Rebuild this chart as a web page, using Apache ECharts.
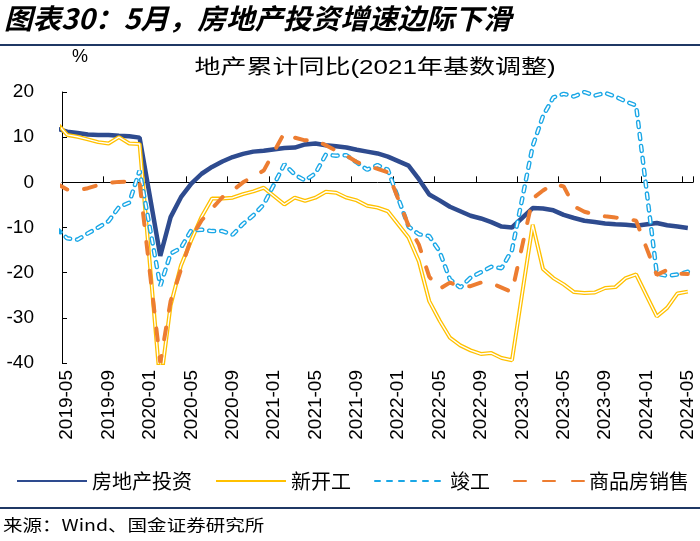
<!DOCTYPE html>
<html><head><meta charset="utf-8">
<script src="https://cdn.jsdelivr.net/npm/echarts@6/dist/echarts.min.js"></script>
<style>html,body{margin:0;padding:0;background:#fff}#c{width:700px;height:541px}</style>
</head><body><div id="c"></div>
<script>
// months: first entry (2019-04) only feeds the line's left edge
const months = [
  '2019-04','2019-05','2019-06','2019-07','2019-08','2019-09','2019-10','2019-11','2019-12',
  '2020-01','2020-02','2020-03','2020-04','2020-05','2020-06','2020-07','2020-08','2020-09','2020-10','2020-11','2020-12',
  '2021-01','2021-02','2021-03','2021-04','2021-05','2021-06','2021-07','2021-08','2021-09','2021-10','2021-11','2021-12',
  '2022-01','2022-02','2022-03','2022-04','2022-05','2022-06','2022-07','2022-08','2022-09','2022-10','2022-11','2022-12',
  '2023-01','2023-02','2023-03','2023-04','2023-05','2023-06','2023-07','2023-08','2023-09','2023-10','2023-11','2023-12',
  '2024-01','2024-02','2024-03','2024-04','2024-05'
];
const invest = [
  11.9, 11.2, 10.9, 10.6, 10.5, 10.5, 10.3, 10.2, 9.9,
  null, -16.3, -7.7, -3.3, -0.3, 1.9, 3.4, 4.6, 5.6, 6.3, 6.8, 7.0,
  null, 7.6, 7.7, 8.4, 8.6, 8.2, 8.0, 7.7, 7.2, 6.8, 6.4, 5.7,
  null, 3.7, 0.7, -2.7, -4.0, -5.4, -6.4, -7.4, -8.0, -8.8, -9.8, -10.0,
  null, -5.7, -5.8, -6.2, -7.2, -7.9, -8.5, -8.8, -9.1, -9.3, -9.4, -9.6,
  null, -9.0, -9.5, -9.8, -10.1
];
const newStart = [
  13.1, 10.5, 10.1, 9.5, 8.9, 8.6, 10.0, 8.6, 8.5,
  null, -44.9, -27.2, -18.4, -12.8, -7.6, -3.6, -3.6, -3.4, -2.6, -2.0, -1.2,
  null, -4.9, -3.4, -4.1, -3.4, -2.1, -2.3, -3.4, -4.0, -5.2, -5.6, -6.4,
  null, -12.2, -17.5, -26.3, -30.6, -34.4, -36.1, -37.2, -38.0, -37.8, -38.9, -39.4,
  null, -9.4, -19.2, -21.2, -22.6, -24.3, -24.5, -24.4, -23.4, -23.2, -21.2, -20.4,
  null, -29.7, -27.8, -24.6, -24.2
];
const completion = [
  -10.3, -12.4, -12.7, -11.3, -10.0, -8.6, -5.5, -4.5, 2.6,
  null, -22.9, -15.8, -14.5, -10.6, -10.5, -10.8, -10.8, -11.6, -9.2, -7.3, -4.9,
  null, 4.0, 1.7, 0.4, 2.0, 6.1, 5.9, 6.0, 4.4, 2.8, 3.8, 2.8,
  null, -9.8, -11.5, -11.9, -15.3, -21.5, -23.3, -21.1, -19.9, -18.7, -19.0, -15.0,
  null, 8.0, 14.7, 18.8, 19.6, 19.0, 20.0, 19.2, 19.8, 19.0, 17.9, 17.0,
  null, -20.2, -20.7, -20.4, -19.8
];
const sales = [
  -0.3, -1.6, -1.8, -1.3, -0.6, -0.1, 0.1, 0.2, -0.1,
  null, -39.9, -26.3, -19.3, -12.3, -8.4, -5.8, -3.3, -1.8, 0.0, 1.3, 2.6,
  null, 11.0, 9.9, 9.3, 9.4, 8.2, 7.0, 5.9, 4.5, 3.6, 3.0, 2.2,
  null, -9.6, -13.8, -20.9, -23.6, -22.2, -23.1, -23.0, -22.2, -22.3, -23.3, -24.3,
  null, -3.6, -1.8, -0.4, -0.9, -5.3, -6.5, -7.1, -7.5, -7.8, -8.0, -8.5,
  null, -20.5, -19.4, -20.2, -20.3
];
const seriesNames = ['房地产投资', '新开工', '竣工', '商品房销售'];
const titleText = '图表30：5月，房地产投资增速边际下滑';
const subTitle = '地产累计同比(2021年基数调整)';
const sourceText = '来源：Wind、国金证券研究所';
const yMin = -40, yMax = 20, yStep = 10;

const cats = months.slice(1);
const toXY = arr => arr.map((v, i) => [i - 1, v]);

const chart = echarts.init(document.getElementById('c'), null, {renderer: 'canvas'});
const axisFont = {fontSize: 19, fontFamily: '"Liberation Sans", Arial', color: '#000'};
const cjk = '"Noto Sans CJK SC"';

const base = {type: 'line', xAxisIndex: 2, symbol: 'none', showSymbol: false, connectNulls: true, animation: false};

chart.setOption({
  animation: false,
  backgroundColor: '#fff',
  grid: {left: 62, right: 7, top: 92, bottom: 178, containLabel: false},
  xAxis: [
    {type: 'category', data: cats, boundaryGap: true, position: 'bottom',
     axisLine: {show: true, onZero: true, lineStyle: {color: '#000', width: 1}},
     axisTick: {show: true, inside: true, interval: 3, length: 6, lineStyle: {color: '#000'}},
     axisLabel: {show: false}, splitLine: {show: false}},
    {type: 'category', data: cats, boundaryGap: true, position: 'bottom',
     axisLine: {show: false, onZero: false}, axisTick: {show: false},
     axisLabel: Object.assign({interval: 3, rotate: 90, margin: 7}, axisFont), splitLine: {show: false}},
    {type: 'value', min: -0.5, max: 60.5, show: false, position: 'top'}
  ],
  yAxis: {type: 'value', min: yMin, max: yMax, interval: yStep,
    axisLine: {show: true, onZero: false, lineStyle: {color: '#000', width: 1}},
    axisTick: {show: true, inside: true, length: 5, lineStyle: {color: '#000'}},
    axisLabel: Object.assign({margin: 28}, axisFont),
    splitLine: {show: false}},
  legend: {
    data: seriesNames, left: 16, top: 471, width: 684, padding: 0,
    itemWidth: 70, itemHeight: 14, itemGap: 23,
    itemStyle: {opacity: 0},
    textStyle: {fontSize: 20, fontFamily: cjk, color: '#000'}
  },
  series: [
    Object.assign({}, base, {name: seriesNames[0], data: toXY(invest),
      lineStyle: {color: '#2E4B8F', width: 4.5}, itemStyle: {color: '#2E4B8F'}}),
    Object.assign({}, base, {name: seriesNames[1], data: toXY(newStart),
      lineStyle: {color: '#FFC000', width: 4}, itemStyle: {color: '#FFC000'}}),
    Object.assign({}, base, {name: '_ns', data: toXY(newStart), silent: true,
      lineStyle: {color: '#fff', width: 1.4}, itemStyle: {color: '#fff'}}),
    Object.assign({}, base, {name: seriesNames[2], data: toXY(completion),
      lineStyle: {color: '#1AA7E6', width: 4.5, type: [5, 7], cap: 'round'}, itemStyle: {color: '#1AA7E6'}}),
    Object.assign({}, base, {name: '_cp', data: toXY(completion), silent: true,
      lineStyle: {color: '#fff', width: 1.8, type: [5, 7], cap: 'round'}, itemStyle: {color: '#fff'}}),
    Object.assign({}, base, {name: seriesNames[3], data: toXY(sales),
      lineStyle: {color: '#ED7D31', width: 4, type: [12, 17], cap: 'round'}, itemStyle: {color: '#ED7D31'}})
  ],
  graphic: [
    {type: 'text', x: 4, y: 18, scaleX: 1.02, style: {text: titleText, font: 'italic bold 28px ' + cjk, fill: '#000',
      textAlign: 'left', textVerticalAlign: 'middle', align: 'left', verticalAlign: 'middle'}},
    {type: 'line', shape: {x1: 0, y1: 45, x2: 700, y2: 45}, style: {stroke: '#1F3864', lineWidth: 2}},
    {type: 'text', x: 80, y: 57, style: {text: '%', font: '18px "Liberation Sans"', fill: '#000',
      textAlign: 'center', textVerticalAlign: 'middle', align: 'center', verticalAlign: 'middle'}},
    {type: 'text', x: 375, y: 68, scaleX: 1.3, style: {text: subTitle, font: '20px "Liberation Sans", ' + cjk, fill: '#000',
      textAlign: 'center', textVerticalAlign: 'middle', align: 'center', verticalAlign: 'middle'}},
    {type: 'line', shape: {x1: 0, y1: 508, x2: 700, y2: 508}, style: {stroke: '#1F3864', lineWidth: 2}},
    {type: 'text', x: 3, y: 525, scaleX: 1.22, style: {text: sourceText, font: '16px ' + cjk, fill: '#000',
      textAlign: 'left', textVerticalAlign: 'middle', align: 'left', verticalAlign: 'middle'}}
  ]
});
</script></body></html>
